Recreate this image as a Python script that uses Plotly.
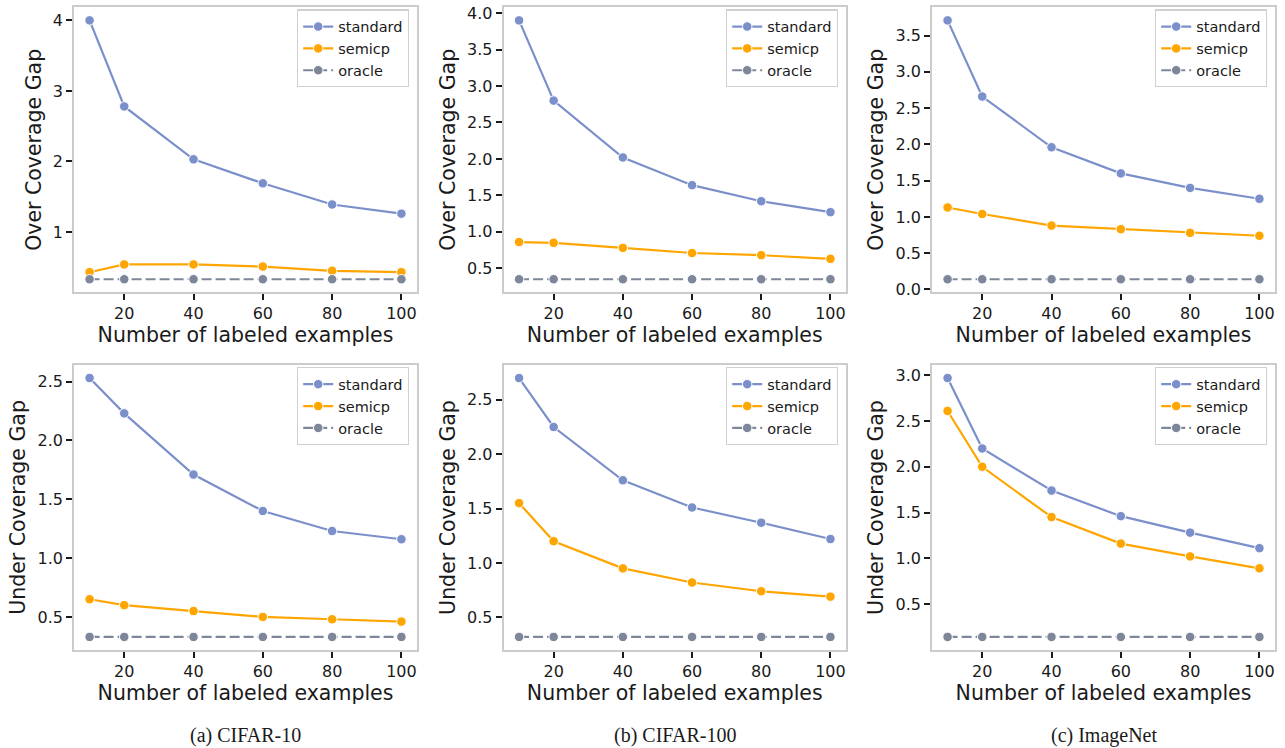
import plotly.graph_objects as go

x_vals = [10, 20, 40, 60, 80, 100]
series_names = ["standard", "semicp", "oracle"]

# Over coverage gap (top row)
over_cifar10_standard = [4.00, 2.78, 2.03, 1.69, 1.39, 1.26]
over_cifar10_semicp = [0.43, 0.54, 0.54, 0.51, 0.45, 0.43]
over_cifar10_oracle = [0.33, 0.33, 0.33, 0.33, 0.33, 0.33]

over_cifar100_standard = [3.90, 2.80, 2.02, 1.64, 1.42, 1.27]
over_cifar100_semicp = [0.86, 0.85, 0.78, 0.71, 0.68, 0.63]
over_cifar100_oracle = [0.35, 0.35, 0.35, 0.35, 0.35, 0.35]

over_imagenet_standard = [3.71, 2.66, 1.96, 1.60, 1.40, 1.25]
over_imagenet_semicp = [1.13, 1.04, 0.88, 0.83, 0.78, 0.74]
over_imagenet_oracle = [0.14, 0.14, 0.14, 0.14, 0.14, 0.14]

# Under coverage gap (bottom row)
under_cifar10_standard = [2.53, 2.23, 1.71, 1.40, 1.23, 1.16]
under_cifar10_semicp = [0.65, 0.60, 0.55, 0.50, 0.48, 0.46]
under_cifar10_oracle = [0.33, 0.33, 0.33, 0.33, 0.33, 0.33]

under_cifar100_standard = [2.70, 2.25, 1.76, 1.51, 1.37, 1.22]
under_cifar100_semicp = [1.55, 1.20, 0.95, 0.82, 0.74, 0.69]
under_cifar100_oracle = [0.32, 0.32, 0.32, 0.32, 0.32, 0.32]

under_imagenet_standard = [2.97, 2.20, 1.74, 1.46, 1.28, 1.11]
under_imagenet_semicp = [2.61, 2.00, 1.45, 1.16, 1.02, 0.89]
under_imagenet_oracle = [0.14, 0.14, 0.14, 0.14, 0.14, 0.14]

captions = ["(a) CIFAR-10", "(b) CIFAR-100", "(c) ImageNet"]
y_titles = ["Over Coverage Gap", "Under Coverage Gap"]
x_title = "Number of labeled examples"
x_ticks = [20, 40, 60, 80, 100]

panels = [
    # (row, col, [standard, semicp, oracle], y tick values)
    (0, 0, [over_cifar10_standard, over_cifar10_semicp, over_cifar10_oracle], [1, 2, 3, 4]),
    (0, 1, [over_cifar100_standard, over_cifar100_semicp, over_cifar100_oracle], [0.5, 1.0, 1.5, 2.0, 2.5, 3.0, 3.5, 4.0]),
    (0, 2, [over_imagenet_standard, over_imagenet_semicp, over_imagenet_oracle], [0.0, 0.5, 1.0, 1.5, 2.0, 2.5, 3.0, 3.5]),
    (1, 0, [under_cifar10_standard, under_cifar10_semicp, under_cifar10_oracle], [0.5, 1.0, 1.5, 2.0, 2.5]),
    (1, 1, [under_cifar100_standard, under_cifar100_semicp, under_cifar100_oracle], [0.5, 1.0, 1.5, 2.0, 2.5]),
    (1, 2, [under_imagenet_standard, under_imagenet_semicp, under_imagenet_oracle], [0.5, 1.0, 1.5, 2.0, 2.5, 3.0]),
]

colors = {"standard": "#7b90cb", "semicp": "#ffa500", "oracle": "#7d8799"}
dashes = {"standard": "solid", "semicp": "solid", "oracle": "10px,4px"}

W, H = 1285, 748
col_px = [(74, 417), (503.5, 846), (932, 1275)]
row_px = [(3.5, 292.5), (366.5, 655.5)]

fig = go.Figure()
layout = dict(
    width=W, height=H, margin=dict(l=0, r=0, t=0, b=0),
    paper_bgcolor="white", plot_bgcolor="white",
    font=dict(family="DejaVu Sans", color="#1a1a1a"),
    annotations=[],
)

for i, (r, c, ys, yt) in enumerate(panels):
    idx = i + 1
    xa = "x" if idx == 1 else f"x{idx}"
    ya = "y" if idx == 1 else f"y{idx}"
    leg = "legend" if idx == 1 else f"legend{idx}"
    for name, yv in zip(series_names, ys):
        fig.add_trace(go.Scatter(
            x=x_vals, y=yv, mode="lines+markers", name=name,
            xaxis=xa, yaxis=ya, legend=leg,
            line=dict(color=colors[name], width=2.2, dash=dashes[name]),
            marker=dict(color=colors[name], size=9.5, line=dict(color="white", width=1)),
        ))
    allv = [v for s in ys for v in s]
    lo, hi = min(allv), max(allv)
    pad = (hi - lo) * 0.05
    x0, x1 = col_px[c]
    y0, y1 = row_px[r]
    axis_common = dict(
        showline=True, linecolor="#cccccc", linewidth=1.5, mirror=True,
        showgrid=False, zeroline=False,
        ticks="outside", ticklen=6, tickwidth=1.5, tickcolor="#1a1a1a",
        tickfont=dict(size=16, color="#1a1a1a"),
        ticklabeloverflow="allow",
    )
    layout["xaxis" if idx == 1 else f"xaxis{idx}"] = dict(
        domain=[x0 / W, x1 / W], anchor=ya, range=[5.5, 104.5],
        tickvals=x_ticks,
        title=dict(text=x_title, font=dict(size=20.5, color="#1a1a1a"), standoff=2),
        **axis_common,
    )
    layout["yaxis" if idx == 1 else f"yaxis{idx}"] = dict(
        domain=[1 - y1 / H, 1 - y0 / H], anchor=xa, range=[lo - pad, hi + pad],
        tickvals=yt, ticktext=[(f"{v:.0f}" if r == 0 and c == 0 else f"{v:.1f}") for v in yt],
        title=dict(text=y_titles[r], font=dict(size=20.5, color="#1a1a1a"), standoff=6),
        **axis_common,
    )
    layout[leg] = dict(
        x=(x1 - 8) / W, y=1 - (y0 + 2) / H, xanchor="right", yanchor="top",
        bgcolor="rgba(255,255,255,0.9)", bordercolor="#d0d0d0", borderwidth=1.2,
        font=dict(size=14.5, color="#1a1a1a"), tracegroupgap=0,
        itemwidth=30,
    )

for c, cap in enumerate(captions):
    x0, x1 = col_px[c]
    layout["annotations"].append(dict(
        x=(x0 + x1) / 2 / W, y=1 - 742 / H, xref="paper", yref="paper",
        text=cap, showarrow=False, xanchor="center", yanchor="middle",
        font=dict(family="Liberation Serif", size=20, color="#1a1a1a"),
    ))

fig.update_layout(**layout)
fig.write_html(
    "out.html",
    config={"displayModeBar": False},
    post_script="document.body.style.margin='0';document.body.style.overflow='hidden';",
)
